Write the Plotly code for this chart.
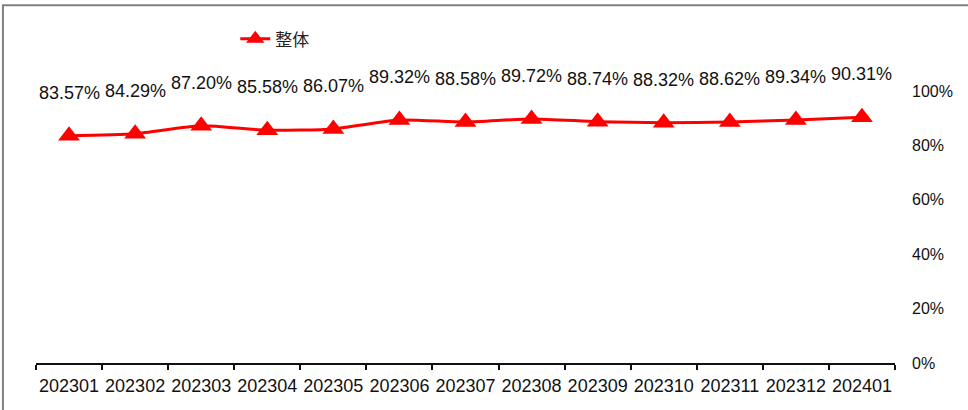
import plotly.graph_objects as go

# Monthly ratio for the overall group (%)
months = ["202301", "202302", "202303", "202304", "202305", "202306", "202307",
          "202308", "202309", "202310", "202311", "202312", "202401"]
overall = [83.57, 84.29, 87.20, 85.58, 86.07, 89.32, 88.58,
           89.72, 88.74, 88.32, 88.62, 89.34, 90.31]
y_ticks = [0, 20, 40, 60, 80, 100]
series_name = "整体"

RED = "#FF0000"
FONT = "Liberation Sans, Arial, sans-serif"

fig = go.Figure()
fig.add_trace(go.Scatter(
    x=months,
    y=[v / 100 for v in overall],
    mode="lines+markers",
    name=series_name,
    line=dict(color=RED, width=3, shape="spline", smoothing=0.6),
    marker=dict(symbol="triangle-up", size=19, color=RED),
))

# value labels above each point (category index positions)
for i, v in enumerate(overall):
    fig.add_annotation(
        x=i, y=v / 100, xref="x", yref="y", text=f"{v:.2f}%", showarrow=False,
        yshift=43, font=dict(size=18, color="#111111", family=FONT),
    )

# outer frame
fig.add_shape(type="rect", xref="paper", yref="paper",
              x0=-0.0385, x1=1.2, y0=-0.3, y1=1.3157,
              line=dict(color="#808080", width=2), layer="below")

fig.update_layout(
    width=968, height=410,
    margin=dict(l=36, r=73, t=91, b=47),
    paper_bgcolor="white", plot_bgcolor="white",
    font=dict(family=FONT, color="#111111"),
    showlegend=True,
    legend=dict(
        orientation="h", x=0.232, y=1.19, xanchor="left", yanchor="middle",
        font=dict(size=17, family="Noto Sans CJK SC", color="#222222"),
        bgcolor="rgba(0,0,0,0)",
    ),
    xaxis=dict(
        type="category", showgrid=False, zeroline=False,
        showline=True, linecolor="#111111", linewidth=1.5,
        ticks="outside", tickson="boundaries", ticklen=5, tickwidth=1.5,
        tickcolor="#111111", tickangle=0, ticklabelstandoff=6,
        tickfont=dict(size=18, color="#111111"),
        range=[-0.5, len(months) - 0.5],
    ),
    yaxis=dict(
        side="right", range=[0, 1],
        tickvals=[t / 100 for t in y_ticks],
        ticktext=[f"{t}%" for t in y_ticks],
        showgrid=False, zeroline=False, showline=False,
        tickfont=dict(size=16, color="#111111"),
        ticklabelstandoff=16,
    ),
)

fig.write_html("out.html")
